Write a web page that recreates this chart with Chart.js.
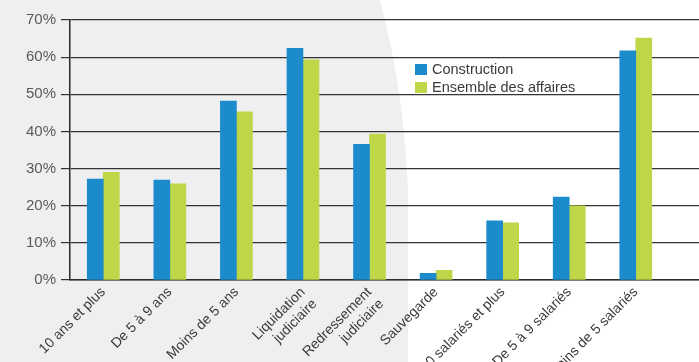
<!DOCTYPE html>
<html lang="fr">
<head>
<meta charset="UTF-8">
<title>Construction</title>
<script src="https://cdn.jsdelivr.net/npm/chart.js"></script>
<style>
  html, body { margin: 0; padding: 0; background: #fff; }
  .wrap { position: relative; width: 699px; height: 362px; }
  canvas { display: block; }
  .legende { position: absolute; left: 415px; top: 60px; font-family: "Liberation Sans", Arial, sans-serif; font-size: 14.5px; color: #3a3a3a; }
  .legende div { height: 18px; line-height: 18px; white-space: nowrap; }
  .legende span { display: inline-block; width: 12px; height: 11px; margin-right: 5px; vertical-align: -1px; }
</style>
</head>
<body>
<div class="wrap">
  <canvas id="grafico" width="699" height="362"></canvas>
  <div class="legende" id="legende"></div>
</div>

<script>
// categories
const categories = [
  "10 ans et plus",
  "De 5 à 9 ans",
  "Moins de 5 ans",
  ["Liquidation", "judiciaire"],
  ["Redressement", "judiciaire"],
  "Sauvegarde",
  "10 salariés et plus",
  "De 5 à 9 salariés",
  "Moins de 5 salariés"
];

// series (%)
const construction = [27.2, 26.9, 48.2, 62.4, 36.5, 1.8, 15.9, 22.3, 61.7];
const ensemble = [29.0, 25.9, 45.3, 59.3, 39.3, 2.6, 15.4, 20.0, 65.1];

const seriesNames = ["Construction", "Ensemble des affaires"];
const yTicks = [0, 10, 20, 30, 40, 50, 60, 70];

const bleu = "#1c8bcb";
const vert = "#bed647";

function points(values) {
  return values.map(function (v, i) { return { x: i, y: v }; });
}

// fond gris arrondi a gauche
const fond = {
  id: "fond",
  beforeDraw(chart) {
    const ctx = chart.ctx;
    ctx.save();
    ctx.fillStyle = "#ffffff";
    ctx.fillRect(0, 0, chart.width, chart.height);
    ctx.fillStyle = "#eeeff1";
    ctx.beginPath();
    ctx.moveTo(0, 0);
    ctx.lineTo(380, 0);
    ctx.quadraticCurveTo(404, 90, 408, 190);
    ctx.lineTo(408, chart.height);
    ctx.lineTo(0, chart.height);
    ctx.closePath();
    ctx.fill();
    ctx.restore();
  }
};

const config = {
  type: "bar",
  data: {
    datasets: [
      { label: seriesNames[0], data: points(construction), backgroundColor: bleu, barThickness: 16 },
      { label: seriesNames[1], data: points(ensemble), backgroundColor: vert, barThickness: 16 }
    ]
  },
  options: {
    responsive: false,
    animation: false,
    layout: { padding: { top: 20, right: 0, left: 0, bottom: 0 } },
    plugins: {
      legend: { display: false },
      tooltip: { enabled: false }
    },
    scales: {
      x: {
        type: "linear",
        offset: false,
        min: -0.5,
        max: 8.95,
        afterBuildTicks(scale) {
          scale.ticks = categories.map(function (c, i) { return { value: i }; });
        },
        afterFit(scale) { scale.height = 82; },
        grid: { display: false, drawTicks: false, offset: false },
        border: { display: true, color: "#2b2b2b", width: 1.5 },
        ticks: {
          autoSkip: false,
          maxRotation: 45,
          minRotation: 45,
          padding: 4,
          color: "#3a3a3a",
          font: { family: "Liberation Sans", size: 14 },
          callback: function (v) { return categories[v]; }
        }
      },
      y: {
        min: 0,
        max: 70,
        afterBuildTicks(scale) {
          scale.ticks = yTicks.map(function (v) { return { value: v }; });
        },
        afterFit(scale) { scale.width = 70; },
        grid: { color: "#333333", lineWidth: 1.2, tickLength: 9, drawTicks: true },
        border: { display: true, color: "#2b2b2b", width: 1.5 },
        ticks: {
          padding: 5,
          color: "#5a5a5a",
          font: { family: "Liberation Sans", size: 15 },
          callback: function (v) { return v + "%"; }
        }
      }
    }
  },
  plugins: [fond]
};

new Chart(document.getElementById("grafico"), config);

// legende HTML
const legende = document.getElementById("legende");
[bleu, vert].forEach(function (c, i) {
  const ligne = document.createElement("div");
  ligne.innerHTML = '<span style="background:' + c + '"></span>' + seriesNames[i];
  legende.appendChild(ligne);
});
</script>
</body>
</html>
